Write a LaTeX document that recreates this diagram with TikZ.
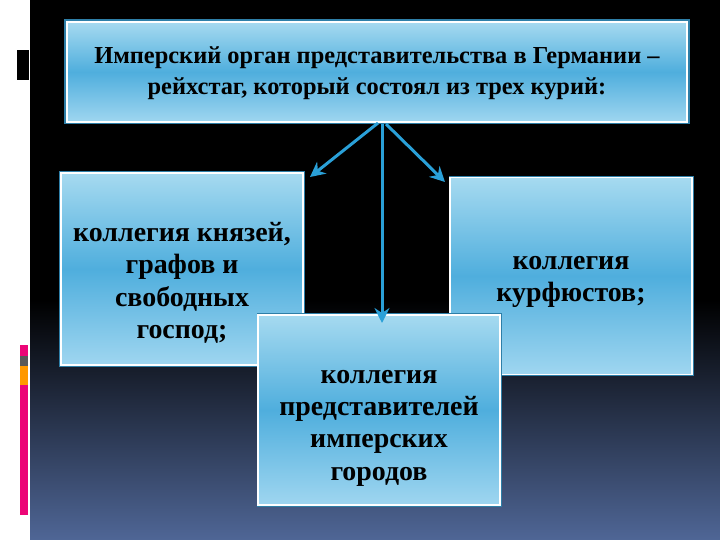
\documentclass[tikz,border=0pt]{standalone}
\usepackage{fontspec}
\setmainfont{Liberation Serif}
\usetikzlibrary{arrows.meta}
\definecolor{arr}{HTML}{2AA0D8}
\definecolor{bxtop}{HTML}{A6DAF0}
\definecolor{bxmid}{HTML}{4FAEDD}
\definecolor{bxbot}{HTML}{9FD6F0}
\definecolor{bgbot}{HTML}{4F6696}
\definecolor{glow}{HTML}{2E7FA8}
\begin{document}
\begin{tikzpicture}[x=1bp,y=-1bp,
  card/.style={draw=white, line width=1.5bp, top color=bxtop, bottom color=bxbot, middle color=bxmid, align=center, inner sep=0pt, text=black, font=\bfseries},
  halo/.style={draw=glow, line width=3bp, fill=none, inner sep=0pt},
  big/.style={font=\bfseries\fontsize{28}{32.5}\selectfont, align=center, text=black},
  conn/.style={draw=arr, line width=3bp, -{Stealth[length=15bp,width=15bp,inset=5bp]}}]
\useasboundingbox (0,0) rectangle (720,540);
\fill[white] (0,0) rectangle (30,540);
\fill[black] (30,0) rectangle (720,300);
\shade[top color=black, bottom color=bgbot] (30,300) rectangle (720,540);
\fill[black] (17,50) rectangle (29,80);
\fill[magenta!80!red] (20,345) rectangle (28,356);
\fill[gray!70!black] (20,356) rectangle (28,366);
\fill[orange!80!yellow] (20,366) rectangle (28,385);
\fill[magenta!80!red] (20,385) rectangle (28,515);
\node[halo, minimum width=622bp, minimum height=102bp] at (377,72) {};
\node[card, minimum width=620bp, minimum height=100bp] (top) at (377,72) {};
\node[font=\bfseries\fontsize{24.5}{31}\selectfont, align=center] (toptext) at (377,73) {Имперский орган представительства в Германии –\\рейхстаг, который состоял из трех курий:};
\node[halo, minimum width=242bp, minimum height=192bp] at (182,269) {};
\node[card, minimum width=242bp, minimum height=192bp] (left) at (182,269) {};
\node[big] (lefttext) at (182,283) {коллегия князей,\\графов и\\свободных\\господ;};
\node[halo, minimum width=242bp, minimum height=197bp] at (571,276) {};
\node[card, minimum width=242bp, minimum height=197bp] (right) at (571,276) {};
\node[big] (righttext) at (571,282) {коллегия\\курфюстов;};
\node[halo, minimum width=242bp, minimum height=190bp] at (379,410) {};
\node[card, minimum width=242bp, minimum height=190bp] (bot) at (379,410) {};
\node[big] (bottext) at (379,428) {коллегия\\представителей\\имперских\\городов};
\coordinate (s1) at (378,123); \coordinate (e1) at (310,177);
\coordinate (s2) at (382,124); \coordinate (e2) at (382,323);
\coordinate (s3) at (386,124); \coordinate (e3) at (445,182);
\draw[conn] (s1) -- (e1);
\draw[conn] (s2) -- (e2);
\draw[conn] (s3) -- (e3);
\end{tikzpicture}
\end{document}
